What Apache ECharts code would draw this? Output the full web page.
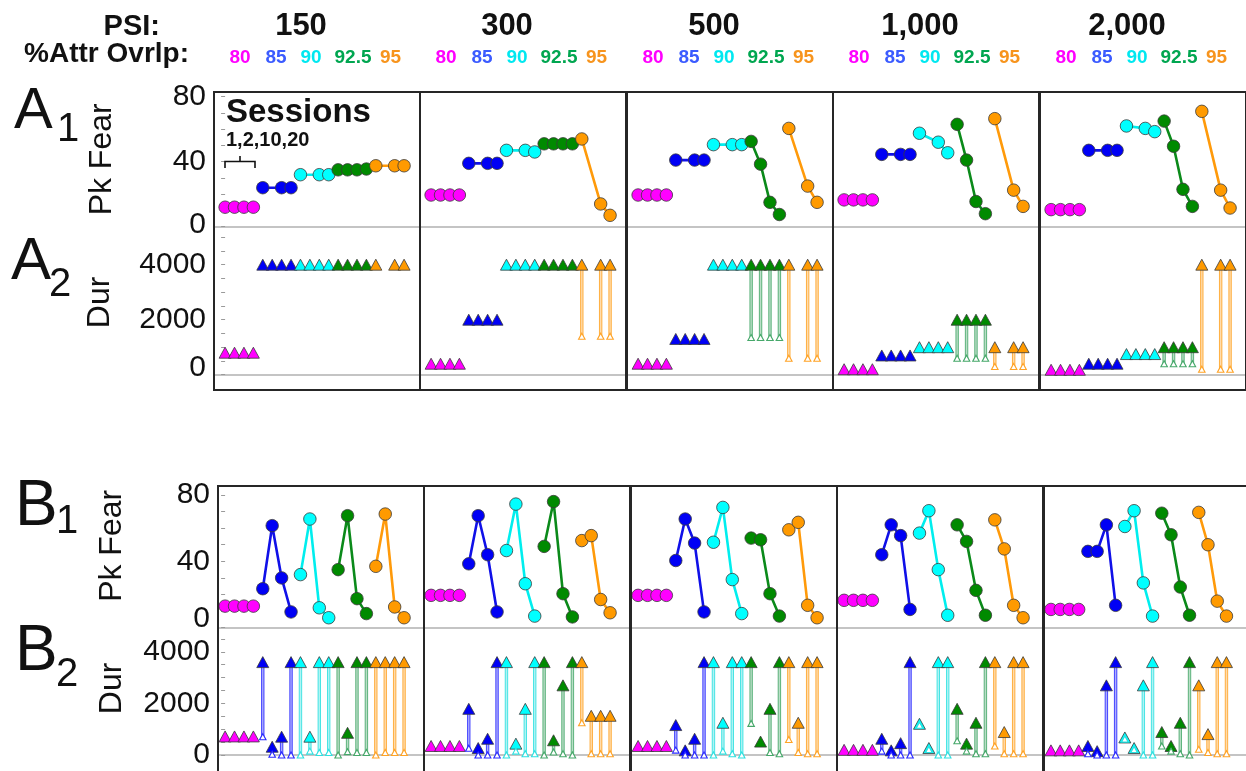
<!DOCTYPE html>
<html><head><meta charset="utf-8">
<script src="https://cdn.jsdelivr.net/npm/echarts@6.0.0/dist/echarts.min.js"></script>
<style>html,body{margin:0;padding:0;background:#fff}#c{width:1246px;height:771px}</style>
</head><body><div id="c"></div><script>
// ---------- labels ----------
const PSI_LABELS = ['150', '300', '500', '1,000', '2,000'];
const OVERLAP_LABELS = ['80', '85', '90', '92.5', '95'];
const SESSION_LABEL = '1,2,10,20';
const GROUP_COLORS = ['#ff00ff', '#0000f5', '#00ffff', '#008a00', '#ff9a00'];
const LINE_COLORS = ['#ff00ff', '#1010e8', '#00eeee', '#0b8a1a', '#ff9a0a'];
const DROP_COLORS = ['#ff33ff', '#2a2aff', '#2ee0e0', '#46a86a', '#ffa326'];
const LABEL_COLORS = ['#ff00ff', '#3b5bff', '#00e8f0', '#00a650', '#f7941d'];

// ---------- data: 20 points per PSI column = 5 overlap groups x sessions 1,2,10,20 ----------
// A1: peak fear (null = not shown)
const A1_PKFEAR = [
  [12, 12, 12, 12, 24, null, 24, 24, 32, null, 32, 32, 35, 35, 35, 35.5, 37.5, null, 37.5, 37.5],
  [19.5, 19.5, 19.5, 19.5, 39, null, 39, 39, 47, null, 47, 46, 51, 51, 51, 51, 54, null, 14, 7],
  [19.5, 19.5, 19.5, 19.5, 41, null, 41, 41, 50.5, null, 50.5, 50.5, 52.5, 38.5, 15, 7.5, 60.5, null, 25, 15],
  [16.5, 16.5, 16.5, 16.5, 44.5, null, 44.5, 44.5, 57.5, null, 52, 45.5, 63, 41, 15.5, 8, 66.5, null, 22.5, 12.5],
  [10.5, 10.5, 10.5, 10.5, 47, null, 47, 47, 62, null, 60.5, 58.5, 65, 49.5, 23, 12.5, 71, null, 22.5, 11.5]
];
// A2: duration (filled triangle) and lower end of its drop line (hollow triangle)
const A2_DUR = [
  [800, 800, 800, 800, 4000, 4000, 4000, 4000, 4000, 4000, 4000, 4000, 4000, 4000, 4000, 4000, 4000, null, 4000, 4000],
  [400, 400, 400, 400, 2000, 2000, 2000, 2000, 4000, 4000, 4000, 4000, 4000, 4000, 4000, 4000, 4000, null, 4000, 4000],
  [400, 400, 400, 400, 1300, 1300, 1300, 1300, 4000, 4000, 4000, 4000, 4000, 4000, 4000, 4000, 4000, null, 4000, 4000],
  [200, 200, 200, 200, 700, 700, 700, 700, 1000, 1000, 1000, 1000, 2000, 2000, 2000, 2000, 1000, null, 1000, 1000],
  [180, 180, 180, 180, 400, 400, 400, 400, 750, 750, 750, 750, 1000, 1000, 1000, 1000, 4000, null, 4000, 4000]
];
const A2_LOW = [
  [null, null, null, null, null, null, null, null, null, null, null, null, null, null, null, null, null, null, null, null],
  [null, null, null, null, null, null, null, null, null, null, null, null, null, null, null, null, 1400, null, 1400, 1400],
  [null, null, null, null, null, null, null, null, null, null, null, null, 1350, 1350, 1350, 1350, 600, null, 600, 600],
  [null, null, null, null, null, null, null, null, null, null, null, null, 600, 600, 600, 600, 300, null, 300, 300],
  [null, null, null, null, null, null, null, null, null, null, null, null, 400, 400, 400, 400, 200, null, 200, 200]
];
// B1: peak fear
const B1_PKFEAR = [
  [13, 13, 13, 13, 23.5, 61.5, 30, 9.5, 32, 65.5, 12, 6, 35, 67.5, 17.5, 8.5, 37, 68.5, 12.5, 6],
  [19.5, 19.5, 19.5, 19.5, 38.5, 67.5, 44, 9.5, 46.5, 74.5, 26.5, 7, 49, 76, 20.5, 6.5, 52.5, 55.5, 17, 9],
  [19.5, 19.5, 19.5, 19.5, 40.5, 65.5, 51, 9.5, 51.5, 72.5, 29, 8.5, 54, 53, 20.5, 7, 59, 63.5, 13.5, 6],
  [16.5, 16.5, 16.5, 16.5, 44, 62, 55.5, 11, 57, 70.5, 35, 7.5, 62, 52, 22.5, 7.5, 65, 47.5, 13.5, 6],
  [11, 11, 11, 11, 46, 46, 62, 13.5, 61, 70.5, 27, 7, 69, 56, 24.5, 7.5, 69.5, 50, 16, 7]
];
// B2: duration and lower end
const B2_DUR = [
  [720, 720, 720, 720, 3600, 320, 710, 3600, 3600, 710, 3600, 3600, 3600, 860, 3600, 3600, 3600, 3600, 3600, 3600],
  [350, 350, 350, 350, 1790, 270, 630, 3600, 3600, 440, 1790, 3600, 3600, 570, 2700, 3600, 3600, 1520, 1520, 1520],
  [350, 350, 350, 350, 1160, 180, 630, 3600, 3600, 1250, 3600, 3600, 3600, 520, 1790, 3600, 3600, 1250, 3600, 3600],
  [200, 200, 200, 200, 630, 180, 460, 3600, 1210, 270, 3600, 3600, 1790, 440, 1250, 3600, 3600, 890, 3600, 3600],
  [180, 180, 180, 180, 350, 150, 2700, 3600, 680, 270, 2700, 3600, 890, 350, 1250, 3600, 2700, 810, 3600, 3600]
];
const B2_LOW = [
  [null, null, null, null, 710, 30, 0, 0, 0, 150, 100, 100, 0, 130, 100, 100, 0, 100, 100, 100],
  [null, null, null, null, 260, 0, 0, 0, 0, 150, 50, 50, 0, 120, 50, 0, 1250, 50, 50, 50],
  [null, null, null, null, 190, 0, 0, 0, 0, 150, 50, 0, 1225, null, 100, 50, 600, 100, 50, 50],
  [null, null, null, null, 150, 0, 0, 0, 1150, 210, 0, 0, 550, 150, 50, 50, 350, 50, 50, 50],
  [null, null, null, null, 50, 0, 0, 0, 620, 210, 0, 0, 350, 150, 50, 0, 220, 100, 50, 50]
];
const FEAR_TICKS = [0, 10, 20, 30, 40, 50, 60, 70, 80];
const FEAR_LABELS = [0, 40, 80];
const A2_TICKS = [0, 500, 1000, 1500, 2000, 2500, 3000, 3500, 4000, 4500, 5000];
const B2_TICKS = [0, 500, 1000, 1500, 2000, 2500, 3000, 3500, 4000, 4500];
const DUR_LABELS = [0, 2000, 4000];

// ---------- layout ----------
const COL_LEFT_A = [214, 420, 627, 833, 1040];
const COL_LEFT_B = [218, 424, 631, 837, 1044];
const COL_W = 206;
const X_STEP = 9.42;
const FONT = '"Liberation Sans", Arial, sans-serif';

const ROWS = [
  { key: 'A1', kind: 'fear', vals: A1_PKFEAR, top: 92, height: 134.7, min: 0, max: 82.9, lefts: COL_LEFT_A, pad: 11.1,
    ticks: FEAR_TICKS, labels: FEAR_LABELS, name: 'Pk Fear', nameGap: 96, zeroLift: 2, namePad: [0, 0, 0, 0] },
  { key: 'A2', kind: 'dur', vals: A2_DUR, low: A2_LOW, top: 226.7, height: 163.3, min: -556, max: 5381, lefts: COL_LEFT_A, pad: 11.1,
    ticks: A2_TICKS, labels: DUR_LABELS, name: 'Dur', nameGap: 98, zeroLift: 7, namePad: [0, 0, 0, 12] },
  { key: 'B1', kind: 'fear', vals: B1_PKFEAR, top: 486, height: 141.7, min: 0, max: 85.4, lefts: COL_LEFT_B, pad: 7.1,
    ticks: FEAR_TICKS, labels: FEAR_LABELS, name: 'Pk Fear', nameGap: 90, zeroLift: 9, namePad: [0, 0, 0, 22] },
  { key: 'B2', kind: 'dur', vals: B2_DUR, low: B2_LOW, top: 627.7, height: 143.3, min: -620, max: 4934, lefts: COL_LEFT_B, pad: 7.1,
    ticks: B2_TICKS, labels: DUR_LABELS, name: 'Dur', nameGap: 90, zeroLift: 0, namePad: [0, 0, 0, 22] }
];

const grids = [], xAxes = [], yAxes = [], series = [];
ROWS.forEach(function (row) {
  for (let c = 0; c < 5; c++) {
    const g = grids.length;
    grids.push({ left: row.lefts[c], top: row.top, width: COL_W, height: row.height, show: false, containLabel: false });
    const xmin = -row.pad / X_STEP;
    xAxes.push({
      gridIndex: g, type: 'value', min: xmin, max: xmin + COL_W / X_STEP,
      axisLine: { show: true, onZero: true, lineStyle: { color: '#c4c4c4', width: 2 } },
      axisTick: { show: false }, axisLabel: { show: false }, splitLine: { show: false }
    });
    const first = c === 0;
    yAxes.push({
      gridIndex: g, type: 'value', min: row.min, max: row.max,
      axisLine: { show: false },
      axisTick: { show: first, customValues: row.ticks, length: 4, inside: false, lineStyle: { color: '#9a9a9a', width: 1 } },
      axisLabel: {
        show: first, customValues: row.labels, margin: 8, color: '#111', fontSize: 30, fontFamily: FONT,
        formatter: function (v) { return v === 0 ? '{z|0}' : String(v); },
        rich: { z: { fontSize: 30, fontFamily: FONT, color: '#111', padding: [0, 0, row.zeroLift * 2, 0] } }
      },
      splitLine: { show: false },
      name: first ? row.name : '', nameLocation: 'middle', nameRotate: 90, nameGap: row.nameGap,
      nameTextStyle: { fontSize: 32, fontFamily: FONT, color: '#111', padding: row.namePad }
    });
    const vals = row.vals[c];
    for (let k = 0; k < 5; k++) {
      const pts = [];
      for (let s = 0; s < 4; s++) {
        const i = k * 4 + s;
        if (vals[i] !== null) pts.push([i, vals[i]]);
      }
      if (row.kind === 'fear') {
        series.push({
          type: 'line', xAxisIndex: g, yAxisIndex: g, data: pts, symbol: 'circle', symbolSize: 12.5,
          showSymbol: true, animation: false, z: 3,
          lineStyle: { color: LINE_COLORS[k], width: 2.6 },
          itemStyle: { color: GROUP_COLORS[k], borderColor: '#3a3a3a', borderWidth: 0.8 }
        });
      } else {
        series.push({
          type: 'scatter', xAxisIndex: g, yAxisIndex: g, data: pts, symbol: 'triangle', symbolSize: [12, 11],
          animation: false, z: 4,
          itemStyle: { color: GROUP_COLORS[k], borderColor: '#3a3a3a', borderWidth: 0.8, opacity: 1 }
        });
        const lows = [];
        for (let s = 0; s < 4; s++) {
          const i = k * 4 + s;
          if (row.low[c][i] !== null && vals[i] !== null) lows.push([i, row.low[c][i]]);
        }
        series.push({
          type: 'scatter', xAxisIndex: g, yAxisIndex: g, data: lows, symbol: 'triangle', symbolSize: [6.5, 6],
          animation: false, z: 5,
          itemStyle: { color: '#ffffff', borderColor: DROP_COLORS[k], borderWidth: 1.1, opacity: 1 }
        });
      }
    }
    if (row.kind === 'dur') {
      const segs = [];
      for (let i = 0; i < 20; i++) {
        if (vals[i] !== null && row.low[c][i] !== null) segs.push([i, vals[i], row.low[c][i], Math.floor(i / 4)]);
      }
      series.push({
        type: 'custom', xAxisIndex: g, yAxisIndex: g, data: segs, animation: false, z: 2,
        renderItem: function (params, api) {
          const p1 = api.coord([api.value(0), api.value(1)]);
          const p2 = api.coord([api.value(0), api.value(2)]);
          const col = DROP_COLORS[api.value(3)];
          return {
            type: 'rect', shape: { x: p1[0] - 1.2, y: p1[1], width: 2.4, height: p2[1] - p1[1] },
            style: { stroke: col, lineWidth: 0.9, fill: col, fillOpacity: 0.4, opacity: 0.95 }
          };
        }
      });
    }
  }
});

// ---------- annotations ----------
const graphics = [];
function txt(x, y, text, font, color, align, valign) {
  graphics.push({ type: 'text', x: x, y: y, z: 50,
    style: { text: text, font: font, fill: color || '#111', align: align || 'left', verticalAlign: valign || 'middle',
      textAlign: align || 'left', textVerticalAlign: valign || 'middle' } });
}
txt(160, 27, 'PSI:', 'bold 29px ' + FONT, '#111', 'right');
txt(189, 54, '%Attr Ovrlp:', 'bold 28px ' + FONT, '#111', 'right');
const LEG_OFF = [26, 62, 97, 139, 176.5];
for (let c = 0; c < 5; c++) {
  txt(COL_LEFT_A[c] + 87, 26, PSI_LABELS[c], 'bold 31px ' + FONT, '#111', 'center');
  for (let k = 0; k < 5; k++) {
    txt(COL_LEFT_A[c] + LEG_OFF[k], 58, OVERLAP_LABELS[k], 'bold 19px ' + FONT, LABEL_COLORS[k], 'center');
  }
  graphics.push({ type: 'rect', z: 60, shape: { x: COL_LEFT_A[c], y: 92, width: COL_W, height: 298 },
    style: { fill: 'none', stroke: '#262626', lineWidth: 2 } });
  graphics.push({ type: 'rect', z: 60, shape: { x: COL_LEFT_B[c], y: 486, width: COL_W, height: 300 },
    style: { fill: 'none', stroke: '#262626', lineWidth: 2 } });
}
// panel letters
txt(14, 112, 'A', '58px ' + FONT, '#111', 'left');
txt(57, 130, '1', '40px ' + FONT, '#111', 'left');
txt(11, 262, 'A', '60px ' + FONT, '#111', 'left');
txt(49, 285, '2', '40px ' + FONT, '#111', 'left');
txt(15, 507, 'B', '64px ' + FONT, '#111', 'left');
txt(56, 522, '1', '40px ' + FONT, '#111', 'left');
txt(15, 652, 'B', '64px ' + FONT, '#111', 'left');
txt(56, 675, '2', '40px ' + FONT, '#111', 'left');
// sessions annotation
txt(226, 113, 'Sessions', 'bold 33px ' + FONT, '#111', 'left');
txt(226, 140, SESSION_LABEL, 'bold 20px ' + FONT, '#111', 'left');
graphics.push({ type: 'polyline', z: 50, shape: { points: [[225, 168], [225, 161.5], [255, 161.5], [255, 168]] },
  style: { stroke: '#111', lineWidth: 1.6, fill: 'none' } });
graphics.push({ type: 'line', z: 50, shape: { x1: 240, y1: 161.5, x2: 240, y2: 156 },
  style: { stroke: '#111', lineWidth: 1.6 } });

const chart = echarts.init(document.getElementById('c'), null, { renderer: 'canvas' });
chart.setOption({
  animation: false,
  backgroundColor: '#ffffff',
  grid: grids, xAxis: xAxes, yAxis: yAxes, series: series, graphic: graphics
});
</script></body></html>
